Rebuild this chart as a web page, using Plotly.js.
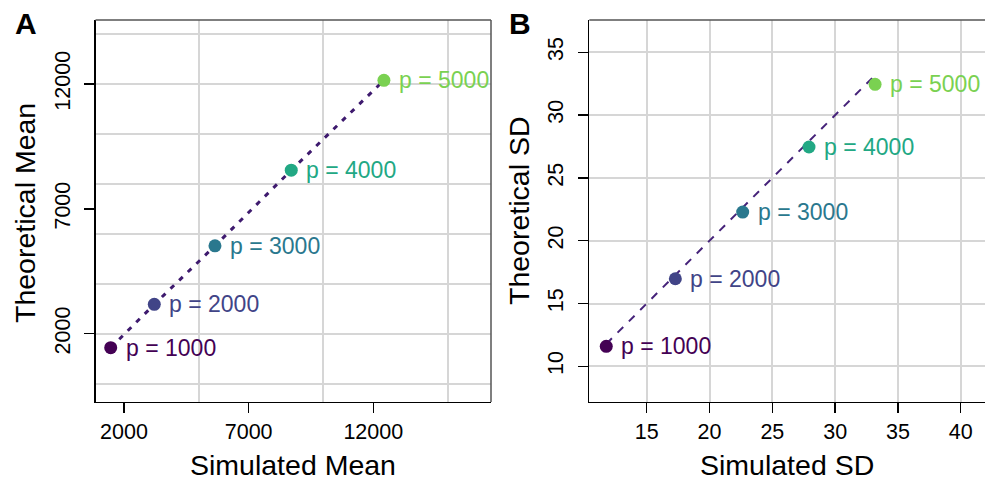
<!DOCTYPE html>
<html>
<head>
<meta charset="utf-8">
<script src="https://cdn.plot.ly/plotly-3.0.1.min.js"></script>
<style>html,body{margin:0;padding:0;background:#fff;}#chart{width:985px;height:483px;}</style>
</head>
<body>
<div id="chart"></div>
<script>
// ---- data ----
var pValues   = [1000, 2000, 3000, 4000, 5000];
var pLabels   = ["p = 1000", "p = 2000", "p = 3000", "p = 4000", "p = 5000"];
var simMean   = [1467, 3215, 5649, 8709, 12426];
var theoMean  = [1440, 3176, 5520, 8548, 12148];
var simSD     = [11.78, 17.28, 22.64, 27.92, 33.18];
var theoSD    = [11.59, 16.97, 22.28, 27.46, 32.45];
var pointColors = ["#440154", "#414487", "#2A788E", "#22A884", "#7AD151"];

var meanTicks = [2000, 7000, 12000];
var meanTickText = ["2000", "7000", "12000"];
var meanGridX = [5000, 10000, 15000];
var meanGridY = [0, 2000, 4000, 6000, 8000, 10000, 12000, 14000];
var sdTicksX  = [15, 20, 25, 30, 35, 40];
var sdTicksY  = [10, 15, 20, 25, 30, 35];

var FONT = "Liberation Sans, Arial, Helvetica, sans-serif";
var GRID = "#D6D6D6";

var sdMin = Math.min.apply(null, simSD), sdMax = Math.max.apply(null, simSD);

var traces = [
  // grid-only helper traces (invisible)
  {x:[simMean[0]], y:[theoMean[0]], xaxis:'x3', yaxis:'y', mode:'markers', marker:{opacity:0}, hoverinfo:'skip', showlegend:false},
  {x:[simMean[0]], y:[theoMean[0]], xaxis:'x', yaxis:'y3', mode:'markers', marker:{opacity:0}, hoverinfo:'skip', showlegend:false},
  // Panel A line through points
  {x:simMean, y:theoMean, xaxis:'x', yaxis:'y', mode:'lines',
   line:{color:'#3E1A6E', width:3, dash:'5px,7px'}, hoverinfo:'skip', showlegend:false},
  {x:simMean, y:theoMean, xaxis:'x', yaxis:'y', mode:'markers',
   marker:{color:pointColors, size:13, line:{width:0}}, showlegend:false},
  // Panel B identity line
  {x:[sdMin, sdMax], y:[sdMin, sdMax], xaxis:'x2', yaxis:'y2', mode:'lines',
   line:{color:'#46237A', width:2, dash:'8px,8px'}, hoverinfo:'skip', showlegend:false},
  {x:simSD, y:theoSD, xaxis:'x2', yaxis:'y2', mode:'markers',
   marker:{color:pointColors, size:13, line:{width:0}}, showlegend:false}
];

var annotations = [];
for (var i = 0; i < pValues.length; i++) {
  annotations.push({x:simMean[i], y:theoMean[i], xref:'x', yref:'y', text:pLabels[i],
    showarrow:false, xanchor:'left', yanchor:'middle', xshift:13,
    font:{family:FONT, size:23, color:pointColors[i]}});
  annotations.push({x:simSD[i], y:theoSD[i], xref:'x2', yref:'y2', text:pLabels[i],
    showarrow:false, xanchor:'left', yanchor:'middle', xshift:13,
    font:{family:FONT, size:23, color:pointColors[i]}});
}
function px(xp){return xp/985;}
function py(yp){return 1 - yp/483;}
annotations.push({x:px(26), y:py(24), xref:'paper', yref:'paper', text:'<b>A</b>', showarrow:false,
  xanchor:'center', yanchor:'middle', font:{family:FONT, size:30, color:'#000'}});
annotations.push({x:px(520), y:py(24), xref:'paper', yref:'paper', text:'<b>B</b>', showarrow:false,
  xanchor:'center', yanchor:'middle', font:{family:FONT, size:30, color:'#000'}});
annotations.push({x:px(293), y:0, xref:'paper', yref:'paper', text:'Simulated Mean', showarrow:false,
  xanchor:'center', yanchor:'bottom', font:{family:FONT, size:28.5, color:'#000'}});
annotations.push({x:px(787), y:0, xref:'paper', yref:'paper', text:'Simulated SD', showarrow:false,
  xanchor:'center', yanchor:'bottom', font:{family:FONT, size:28.5, color:'#000'}});
annotations.push({x:px(25), y:py(213), xref:'paper', yref:'paper', text:'Theoretical Mean', showarrow:false,
  textangle:-90, xanchor:'center', yanchor:'middle', font:{family:FONT, size:28.5, color:'#000'}});
annotations.push({x:px(519), y:py(211), xref:'paper', yref:'paper', text:'Theoretical SD', showarrow:false,
  textangle:-90, xanchor:'center', yanchor:'middle', font:{family:FONT, size:28.5, color:'#000'}});

var tickFont = {family:FONT, size:21.5, color:'#000'};
var axBase = {showline:true, linecolor:'#000', linewidth:1.3, ticks:'outside', ticklen:10, tickwidth:1.3,
  tickcolor:'#000', tickfont:tickFont, zeroline:false, gridcolor:GRID, gridwidth:2, mirror:false,
  tickmode:'array', fixedrange:true};
function ax(extra){var o = JSON.parse(JSON.stringify(axBase)); for (var k in extra) o[k]=extra[k]; return o;}

var domA = [95.5/985, 491/985], domB = [589.3/985, 1];
var domY = [81/483, 463/483];

var layout = {
  width:985, height:483, margin:{l:0, r:0, t:0, b:0},
  paper_bgcolor:'#fff', plot_bgcolor:'#fff', showlegend:false,
  xaxis: ax({domain:domA, anchor:'y', range:[857, 16721], tickvals:meanTicks, ticktext:meanTickText, showgrid:false}),
  yaxis: ax({domain:domY, anchor:'x', range:[-735, 14563], tickvals:meanTicks, ticktext:meanTickText, showgrid:false, tickangle:-90, ticklabelstandoff:6}),
  xaxis3: {overlaying:'x', anchor:'y', range:[857, 16721], tickmode:'array', tickvals:meanGridX, showgrid:true,
    gridcolor:GRID, gridwidth:2, showticklabels:false, ticks:'', showline:false, zeroline:false, fixedrange:true},
  yaxis3: {overlaying:'y', anchor:'x', range:[-735, 14563], tickmode:'array', tickvals:meanGridY, showgrid:true,
    gridcolor:GRID, gridwidth:2, showticklabels:false, ticks:'', showline:false, zeroline:false, fixedrange:true},
  xaxis2: ax({domain:domB, anchor:'y2', range:[10.43, 41.93], tickvals:sdTicksX, showgrid:true}),
  yaxis2: ax({domain:domY, anchor:'x2', range:[7.16, 37.57], tickvals:sdTicksY, showgrid:true, tickangle:-90, ticklabelstandoff:6}),
  annotations: annotations,
  shapes: [
    {type:'line', xref:'x domain', yref:'y domain', x0:0, x1:1, y0:1, y1:1, line:{color:'#555', width:1.5}},
    {type:'line', xref:'x domain', yref:'y domain', x0:1, x1:1, y0:0, y1:1, line:{color:'#555', width:1.5}},
    {type:'line', xref:'x2 domain', yref:'y2 domain', x0:0, x1:1, y0:1, y1:1, line:{color:'#555', width:1.5}}
  ]
};

Plotly.newPlot('chart', traces, layout, {staticPlot:true, displayModeBar:false});
</script>
</body>
</html>
